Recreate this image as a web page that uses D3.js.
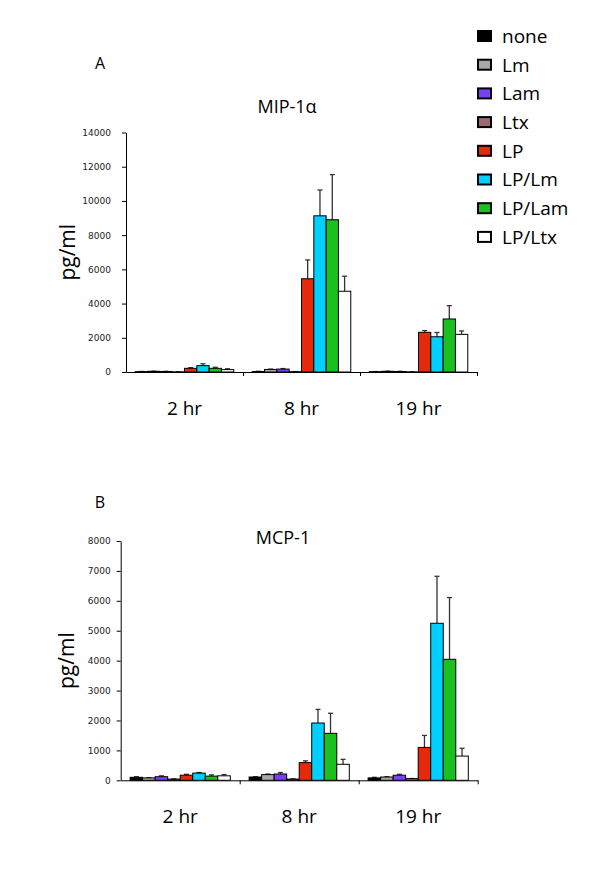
<!DOCTYPE html>
<html>
<head>
<meta charset="utf-8">
<script src="https://cdn.jsdelivr.net/npm/d3@7"></script>
<style>
  body { margin: 0; background: #fff; }
  svg { display: block; }
  .tick text { font-family: "DejaVu Sans", Verdana, sans-serif; font-size: 9px; fill: #222; }
  .lbl { font-family: "Open Sans", "Noto Sans", sans-serif; font-weight: 400; fill: #000; }
</style>
</head>
<body>
<div id="chart"></div>
<script>
const groups = ["2 hr", "8 hr", "19 hr"];
const treatments = ["none", "Lm", "Lam", "Ltx", "LP", "LP/Lm", "LP/Lam", "LP/Ltx"];
const colors = ["#000000", "#a8a8a8", "#7a40f2", "#9c6a6e", "#e52a0c", "#00d0ff", "#19c01e", "#ffffff"];

// MIP-1alpha, rows = groups, cols = treatments
const mip_means = [
  [20, 40, 30, 10, 215, 370, 215, 140],
  [30, 150, 170, 20, 5450, 9130, 8900, 4720],
  [20, 40, 30, 10, 2320, 2060, 3100, 2200]
];
const mip_errors = [
  [10, 10, 10, 5, 40, 110, 60, 50],
  [10, 20, 30, 5, 1100, 1510, 2640, 880],
  [5, 10, 10, 5, 100, 250, 780, 200]
];
const mip_ticks = [0, 2000, 4000, 6000, 8000, 10000, 12000, 14000];

// MCP-1
const mcp_means = [
  [100, 80, 120, 40, 170, 240, 140, 150],
  [110, 190, 210, 40, 590, 1915, 1570, 535],
  [80, 110, 170, 55, 1100, 5250, 4045, 810]
];
const mcp_errors = [
  [20, 10, 30, 10, 30, 20, 40, 40],
  [10, 20, 50, 10, 60, 455, 670, 165],
  [20, 10, 30, 5, 400, 1570, 2065, 260]
];
const mcp_ticks = [0, 1000, 2000, 3000, 4000, 5000, 6000, 7000, 8000];

const svg = d3.select("#chart").append("svg")
  .attr("width", 600).attr("height", 893);

function draw_panel(cfg) {
  const g = svg.append("g");
  const y = d3.scaleLinear().domain([0, cfg.ymax]).range([cfg.y0, cfg.ytop]);
  const gx = d3.scaleBand().domain(groups).range([cfg.x0, cfg.x1]).paddingInner(0).paddingOuter(0);
  const bx = d3.scaleBand().domain(treatments).range([0, gx.bandwidth()]).paddingInner(0).paddingOuter(0.75);
  const edge = d3.scaleLinear().domain([0, groups.length]).range([cfg.x0, cfg.x1]);

  // y axis
  g.append("g")
    .attr("transform", `translate(${cfg.x0},0)`)
    .call(d3.axisLeft(y).tickValues(cfg.ticks).tickFormat(d3.format("d"))
      .tickSize(4).tickSizeOuter(0).tickPadding(cfg.tickPad))
    .call(a => a.selectAll("line, path").attr("stroke", "#000"));

  // x axis, ticks sit on the group edges
  g.append("g")
    .attr("transform", `translate(0,${cfg.y0})`)
    .call(d3.axisBottom(edge).tickValues([1, 2, 3]).tickFormat("").tickSize(4).tickSizeOuter(0))
    .call(a => a.selectAll("line, path").attr("stroke", "#000"));

  const rows = groups.map((grp, i) => treatments.map((t, j) => ({
    grp, t, j, v: cfg.means[i][j], e: cfg.errors[i][j]
  })));

  const gg = g.selectAll("g.grp").data(rows).join("g")
    .attr("class", "grp")
    .attr("transform", (d, i) => `translate(${gx(groups[i])},0)`);

  // error bars (upper only)
  gg.selectAll("line.err").data(d => d).join("line")
    .attr("class", "err")
    .attr("x1", d => bx(d.t) + bx.bandwidth() / 2)
    .attr("x2", d => bx(d.t) + bx.bandwidth() / 2)
    .attr("y1", d => y(d.v))
    .attr("y2", d => y(d.v + d.e))
    .attr("stroke", "#333").attr("stroke-width", 1.3);
  gg.selectAll("line.cap").data(d => d).join("line")
    .attr("class", "cap")
    .attr("x1", d => bx(d.t) + bx.bandwidth() / 2 - 2.5)
    .attr("x2", d => bx(d.t) + bx.bandwidth() / 2 + 2.5)
    .attr("y1", d => y(d.v + d.e))
    .attr("y2", d => y(d.v + d.e))
    .attr("stroke", "#333").attr("stroke-width", 1.3);

  gg.selectAll("rect").data(d => d).join("rect")
    .attr("x", d => bx(d.t))
    .attr("y", d => y(d.v))
    .attr("width", bx.bandwidth())
    .attr("height", d => cfg.y0 - y(d.v))
    .attr("fill", d => colors[d.j])
    .attr("stroke", "#000").attr("stroke-width", 1);

  // group labels
  g.selectAll("text.grp").data(groups).join("text")
    .attr("class", "lbl")
    .attr("x", d => gx(d) + gx.bandwidth() / 2)
    .attr("y", cfg.y0 + 43)
    .attr("text-anchor", "middle")
    .attr("font-size", 19)
    .text(d => d);

  // y title
  g.append("text").attr("class", "lbl")
    .attr("transform", `translate(${cfg.ytx},${(cfg.y0 + cfg.ytop) / 2}) rotate(-90)`)
    .attr("text-anchor", "middle")
    .attr("dy", "0.35em")
    .attr("font-size", 21)
    .text("pg/ml");

  g.append("text").attr("class", "lbl")
    .attr("x", cfg.titleX).attr("y", cfg.titleY)
    .attr("text-anchor", "middle").attr("font-size", 18)
    .text(cfg.title);

  g.append("text").attr("class", "lbl")
    .attr("x", 100).attr("y", cfg.letterY)
    .attr("text-anchor", "middle").attr("font-size", 16)
    .text(cfg.letter);
}

draw_panel({
  means: mip_means, errors: mip_errors, ticks: mip_ticks, ymax: 14000,
  x0: 126, x1: 477, y0: 372, ytop: 132.5, tickPad: 11, ytx: 68,
  title: "MIP-1α", titleX: 287, titleY: 113, letter: "A", letterY: 69
});

draw_panel({
  means: mcp_means, errors: mcp_errors, ticks: mcp_ticks, ymax: 8000,
  x0: 120.7, x1: 477.7, y0: 780.3, ytop: 541, tickPad: 6, ytx: 67,
  title: "MCP-1", titleX: 283, titleY: 544, letter: "B", letterY: 508
});

// legend
const legend = svg.append("g").selectAll("g").data(treatments).join("g")
  .attr("transform", (d, i) => `translate(477,${36 + i * 28.7})`);
legend.append("rect")
  .attr("x", 1).attr("y", -5).attr("width", 13).attr("height", 10)
  .attr("fill", (d, i) => colors[i])
  .attr("stroke", "#000").attr("stroke-width", 2);
legend.append("text").attr("class", "lbl")
  .attr("x", 25).attr("dy", "0.36em")
  .attr("font-size", 19)
  .text(d => d);
</script>
</body>
</html>
